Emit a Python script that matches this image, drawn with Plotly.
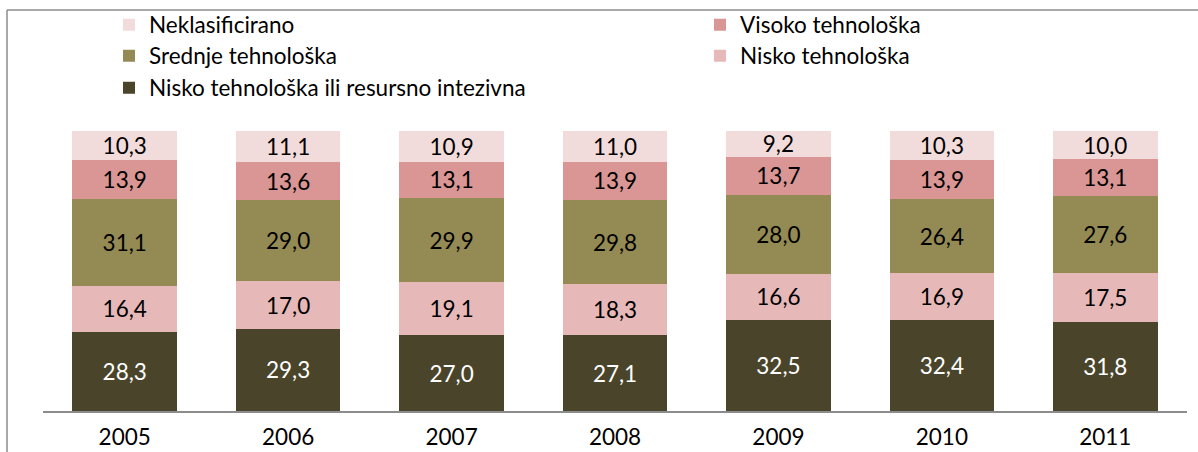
import plotly.graph_objects as go

years = ["2005", "2006", "2007", "2008", "2009", "2010", "2011"]

nisko_resursno = [28.3, 29.3, 27.0, 27.1, 32.5, 32.4, 31.8]
nisko = [16.4, 17.0, 19.1, 18.3, 16.6, 16.9, 17.5]
srednje = [31.1, 29.0, 29.9, 29.8, 28.0, 26.4, 27.6]
visoko = [13.9, 13.6, 13.1, 13.9, 13.7, 13.9, 13.1]
neklas = [10.3, 11.1, 10.9, 11.0, 9.2, 10.3, 10.0]

names = ["Nisko tehnološka ili resursno intezivna", "Nisko tehnološka",
         "Srednje tehnološka", "Visoko tehnološka", "Neklasificirano"]
series = [nisko_resursno, nisko, srednje, visoko, neklas]
colors = ["#4A452A", "#E6B9B8", "#948A54", "#D99694", "#F2DCDB"]
text_colors = ["white", "black", "black", "black", "black"]

W, H = 1198, 452
L, R, T, B = 43, 11, 131, 41
pw, ph = W - L - R, H - T - B

def px_x(x):
    return (x - L) / pw

def px_y(y):
    return (H - B - y) / ph

# legend placement (pixel positions of row centres)
legend_pos = {
    "Neklasificirano": ("legend", 109, 25),
    "Visoko tehnološka": ("legend2", 700, 25),
    "Srednje tehnološka": ("legend3", 109, 56),
    "Nisko tehnološka": ("legend4", 700, 56),
    "Nisko tehnološka ili resursno intezivna": ("legend5", 109, 88),
}

FONT = "Lato, 'Open Sans', sans-serif"
FS = 22.5

fig = go.Figure()
for name, vals, col, tcol in zip(names, series, colors, text_colors):
    fig.add_trace(go.Bar(
        x=years, y=vals, name=name,
        marker=dict(color=col, line=dict(width=0)),
        text=[f"{v:.1f}".replace(".", ",") for v in vals],
        textposition="inside", insidetextanchor="middle",
        textangle=0,
        textfont=dict(color=tcol, size=FS, family=FONT),
        legend=legend_pos[name][0],
        showlegend=True,
        hoverinfo="skip",
    ))

layout_legends = {}
for name, (lk, x, y) in legend_pos.items():
    layout_legends[lk] = dict(
        x=px_x(x), y=px_y(y), xref="paper", yref="paper",
        xanchor="left", yanchor="middle",
        font=dict(size=FS, family=FONT, color="black"),
        bgcolor="rgba(0,0,0,0)", borderwidth=0,
        visible=True,
    )

fig.update_layout(
    width=W, height=H,
    showlegend=True,
    margin=dict(l=L, r=R, t=T, b=B, pad=0, autoexpand=False),
    barmode="stack", bargap=0.36,
    plot_bgcolor="white", paper_bgcolor="white",
    uniformtext=dict(minsize=FS, mode="show"),
    xaxis=dict(showline=True, linecolor="#8C8C8C", linewidth=2,
               ticks="", showgrid=False,
               tickfont=dict(size=FS, family=FONT, color="black"),
               ticklabelstandoff=5),
    yaxis=dict(range=[0, 100], visible=False, showgrid=False),
    shapes=[
        dict(type="line", xref="paper", yref="paper",
             x0=px_x(7), x1=px_x(7), y0=px_y(10), y1=px_y(460),
             line=dict(color="#8C8C8C", width=1.5)),
        dict(type="line", xref="paper", yref="paper",
             x0=px_x(7), x1=px_x(1210), y0=px_y(10), y1=px_y(10),
             line=dict(color="#8C8C8C", width=1.5)),
    ],
    **layout_legends,
)

fig.write_html(
    "out.html",
    config={"displayModeBar": False},
    post_script="document.body.style.margin='0';document.body.style.overflow='hidden';",
)
